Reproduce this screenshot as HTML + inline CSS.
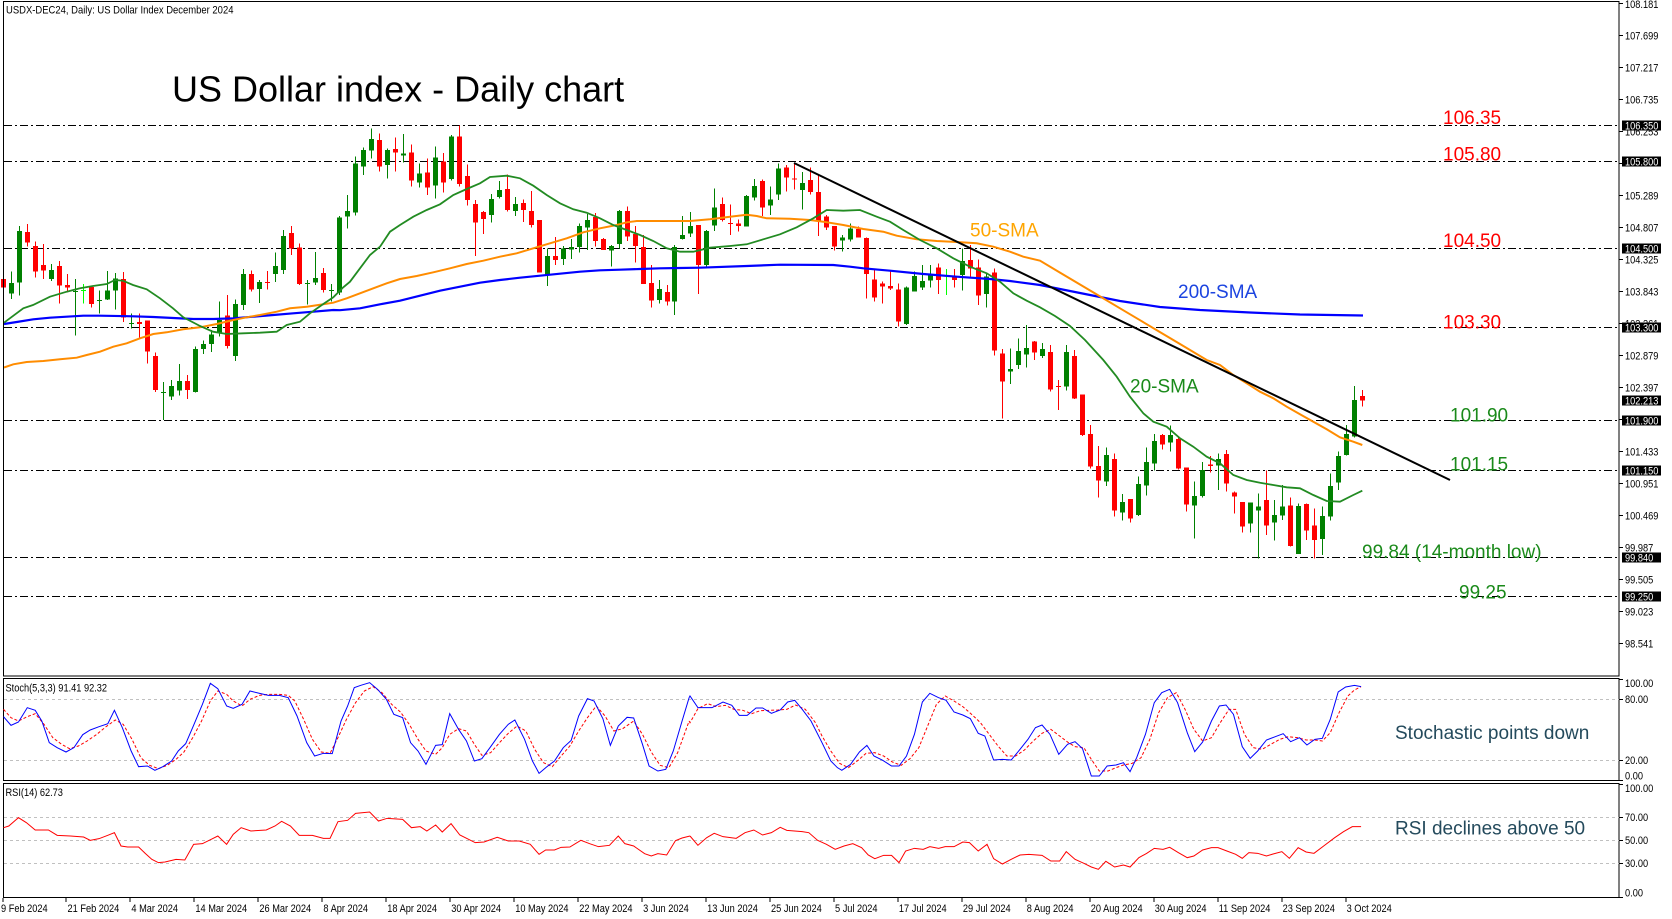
<!DOCTYPE html>
<html><head><meta charset="utf-8"><style>
html,body{margin:0;padding:0;background:#fff;}
svg{display:block;}
text{font-family:"Liberation Sans",Arial,sans-serif;}
</style></head><body>
<svg width="1672" height="919" viewBox="0 0 1672 919" xmlns="http://www.w3.org/2000/svg">
<rect x="0" y="0" width="1672" height="919" fill="#fff"/>

<!-- level dash-dot lines -->
<g stroke="#000" stroke-width="1" stroke-dasharray="8 3 2 3" shape-rendering="crispEdges">
<line x1="4" x2="1619" y1="125.5" y2="125.5"/>
<line x1="4" x2="1619" y1="161.5" y2="161.5"/>
<line x1="4" x2="1619" y1="248.5" y2="248.5"/>
<line x1="4" x2="1619" y1="327.5" y2="327.5"/>
<line x1="4" x2="1619" y1="420.5" y2="420.5"/>
<line x1="4" x2="1619" y1="470.5" y2="470.5"/>
<line x1="4" x2="1619" y1="557.5" y2="557.5"/>
<line x1="4" x2="1619" y1="596.5" y2="596.5"/>
</g>

<!-- candles: red -->
<path fill="none" stroke="#ff0000" stroke-width="1" shape-rendering="crispEdges" d="M3.5 276V291M27.5 224V246.7M35.5 241.7V277.7M43.5 244V279M59.5 261V303.3M67.5 274V291.7M91.5 286V307.7M123.5 272V322M139.5 313.3V337.7M147.5 320.7V363.3M155.5 352.3V392M187.5 375V399M227.5 295V348.3M251.5 270.7V291.7M267.5 271V289.3M291.5 226V255M299.5 243.3V285M323.5 268V292.3M379.5 133.3V171.7M395.5 137.3V171.7M411.5 144.3V186.7M427.5 158.3V195M443.5 153V192.3M459.5 125.7V186.7M467.5 164.3V205.7M475.5 200V256M483.5 211V234M507.5 174.3V211.7M523.5 199.7V222M531.5 191V227.7M539.5 220V272.7M555.5 237V265M595.5 213V246.7M603.5 238V250M627.5 206.7V241M635.5 226V262.7M643.5 235V284M651.5 265V307.7M667.5 285V305.7M698.5 225V294M722.5 197.3V221.7M730.5 204.3V235M738.5 219.3V231.7M762.5 179.3V216M786.5 165V191.7M794.5 164V189.3M810.5 167.3V194.7M818.5 175V236M826.5 215V230M834.5 226V250.7M858.5 226.7V237.7M866.5 237.3V298.3M874.5 268.3V301.7M882.5 281.7V303.7M890.5 270.7V290M898.5 283.3V326.7M938.5 263.3V294M954.5 269V287.3M970.5 245V276.7M978.5 259.3V305M994.5 268.3V355.7M1002.5 349V418.3M1034.5 341V360M1050.5 345V391.7M1058.5 380V410M1074.5 350V399M1082.5 394.3V436M1090.5 425V468.3M1098.5 446V497.3M1114.5 453.3V516.7M1130.5 499V522.7M1162.5 434V449.3M1178.5 436.7V469.3M1186.5 467.3V511.7M1210.5 456V472.3M1226.5 450V491.7M1234.5 491.7V513.3M1242.5 502V532.7M1266.5 470.7V535M1290.5 497.7V546.7M1306.5 503.3V540M1314.5 508.3V558.3M1362.5 390V406.7"/>
<path fill="#ff0000" shape-rendering="crispEdges" d="M1 279h5v8.7h-5zM25 232h5v10.7h-5zM33 246h5v25.7h-5zM41 265h5v5.7h-5zM57 266h5v19.7h-5zM65 285h5v2.7h-5zM89 287h5v17h-5zM121 279h5v38.3h-5zM137 322h5v2h-5zM145 320.7h5v31h-5zM153 356h5v34h-5zM185 381h5v9h-5zM225 315.3h5v30.7h-5zM249 274h5v15.3h-5zM265 282h5v1h-5zM289 233h5v15.7h-5zM297 247.3h5v36.7h-5zM321 273h5v17h-5zM377 140h5v26.7h-5zM393 149h5v3.7h-5zM409 152.3h5v28.4h-5zM425 172.3h5v15.4h-5zM441 161.3h5v21.4h-5zM457 136.3h5v47.7h-5zM465 176h5v24h-5zM473 204h5v18.7h-5zM481 212h5v7h-5zM505 189h5v21h-5zM521 203h5v7h-5zM529 211h5v14h-5zM537 220h5v52.7h-5zM553 256h5v4h-5zM593 217h5v24h-5zM601 239h5v11h-5zM625 211h5v25.7h-5zM633 234h5v12h-5zM641 247h5v37h-5zM649 283h5v17.7h-5zM665 292h5v9.7h-5zM696 225h5v40h-5zM720 204h5v16h-5zM728 223h5v1h-5zM736 223.3h5v2.7h-5zM760 181h5v26.3h-5zM784 167.3h5v10.4h-5zM792 178.3h5v1.4h-5zM808 180h5v12h-5zM816 192h5v29.7h-5zM824 216.7h5v11h-5zM832 226h5v20.7h-5zM856 229h5v8.3h-5zM864 238h5v36h-5zM872 279.3h5v18.4h-5zM880 283.7h5v3h-5zM888 286h5v2.7h-5zM896 289.3h5v32.4h-5zM936 267.7h5v12.3h-5zM952 276.7h5v3.3h-5zM968 260h5v8.3h-5zM976 267.7h5v28h-5zM992 272.3h5v78.4h-5zM1000 353.3h5v28.4h-5zM1032 341.7h5v11h-5zM1048 352h5v37.3h-5zM1056 386h5v1h-5zM1072 356h5v42.3h-5zM1080 394.3h5v40.7h-5zM1088 434h5v32.7h-5zM1096 466h5v14.7h-5zM1112 459h5v51.7h-5zM1128 499h5v19.7h-5zM1160 435h5v9.3h-5zM1176 439h5v29.3h-5zM1184 467.3h5v37h-5zM1208 464.3h5v1.7h-5zM1224 454h5v29.3h-5zM1232 492.7h5v4h-5zM1240 502h5v24.7h-5zM1264 500h5v25.3h-5zM1288 505.3h5v40.7h-5zM1304 504h5v26.7h-5zM1312 525.7h5v14.3h-5zM1360 396h5v4.7h-5z"/>

<!-- candles: green -->
<path fill="none" stroke="#008000" stroke-width="1" shape-rendering="crispEdges" d="M11.5 271.7V299M19.5 226V295.7M51.5 264V281M75.5 279V335.7M99.5 290.7V313.7M107.5 271V300M115.5 273V309.7M131.5 313.3V328.3M163.5 382V420M171.5 380V400M179.5 364V395.7M195.5 346.7V392.7M203.5 340.7V354M211.5 330V352M219.5 301.7V336.7M235.5 299.3V361M243.5 269V310M259.5 280V303M275.5 252.3V282M283.5 230V274M307.5 280V304.3M315.5 252V285M331.5 284V301.7M339.5 216V295M347.5 195V228.3M355.5 156.3V215.7M363.5 147.3V175M371.5 128.3V158.7M387.5 148.3V178.7M403.5 134V162.3M419.5 163.3V187.7M435.5 146.3V198.3M451.5 135V180.7M491.5 194V222.7M499.5 181V198.7M515.5 197V216M547.5 248.3V286M563.5 246V265M571.5 239V259M579.5 223.7V252.7M587.5 214V250M611.5 245V266.7M619.5 210V248.3M659.5 280V303.3M674.5 245V315M682.5 216V239.3M690.5 212V237M706.5 230V266.7M714.5 188.3V231M746.5 195V226.7M754.5 179V200.7M770.5 186.7V215M778.5 163.3V200M802.5 172V209.3M842.5 235V251.7M850.5 223.3V241.7M906.5 286.7V325M914.5 271.7V291.7M922.5 265V290M930.5 265V287.7M962.5 248.3V290.7M986.5 273.3V307.7M1010.5 348.3V384M1018.5 338.3V369M1026.5 325V367.7M1042.5 343V358M1066.5 345V390.7M1106.5 447.7V486M1122.5 494V520.7M1138.5 476.7V516M1146.5 447.7V495.7M1154.5 434V470.7M1170.5 425.7V451.7M1194.5 481.7V538.3M1202.5 462V497.7M1218.5 453.3V490M1250.5 502.7V532.7M1258.5 493.3V558.3M1274.5 500V540.7M1282.5 485V520M1298.5 503.3V554M1322.5 506.7V555M1330.5 473.3V520.7M1338.5 451.7V490M1346.5 425V455.7M1354.5 386V437.3"/>
<path fill="#008000" shape-rendering="crispEdges" d="M9 283h5v10.7h-5zM17 231h5v51.7h-5zM49 270h5v9h-5zM73 291h5v1h-5zM97 300h5v1h-5zM105 290.7h5v9h-5zM113 278.3h5v12.4h-5zM129 323h5v1h-5zM161 392h5v1h-5zM169 386h5v10.7h-5zM177 381h5v9.7h-5zM193 349h5v43h-5zM201 344h5v5h-5zM209 334.3h5v9.7h-5zM217 320h5v13h-5zM233 304h5v52h-5zM241 274h5v31h-5zM257 282h5v7h-5zM273 266h5v8h-5zM281 236h5v34h-5zM305 283h5v1h-5zM313 278h5v4.7h-5zM329 290h5v1h-5zM337 217.7h5v74.6h-5zM345 211h5v5.7h-5zM353 163.3h5v49.4h-5zM361 150h5v16.7h-5zM369 139h5v11.7h-5zM385 150h5v15h-5zM401 153.3h5v2.4h-5zM417 173.3h5v9.4h-5zM433 157.3h5v28.4h-5zM449 136.3h5v42.7h-5zM489 199h5v16h-5zM497 190h5v7h-5zM513 204h5v7h-5zM545 256h5v19h-5zM561 248.3h5v10.7h-5zM569 247h5v2.7h-5zM577 226h5v21h-5zM585 220h5v7.7h-5zM609 246h5v4.3h-5zM617 211h5v33h-5zM657 289h5v11h-5zM672 247h5v54.7h-5zM680 235h5v4h-5zM688 226h5v7.3h-5zM704 231h5v34h-5zM712 207.3h5v18.4h-5zM744 196h5v30.7h-5zM752 186h5v11.7h-5zM768 199.3h5v6.4h-5zM776 168.3h5v26.4h-5zM800 183h5v7h-5zM840 237.3h5v3.4h-5zM848 228.3h5v11h-5zM904 287.7h5v36.3h-5zM912 276h5v15.7h-5zM920 281h5v6.7h-5zM928 274h5v6.7h-5zM960 261h5v14h-5zM984 276.7h5v17.3h-5zM1008 369h5v2.7h-5zM1016 351h5v14h-5zM1024 348h5v6.7h-5zM1040 349h5v7h-5zM1064 352h5v34.7h-5zM1104 455h5v26.7h-5zM1120 502h5v10.7h-5zM1136 484h5v31h-5zM1144 462h5v23.7h-5zM1152 441h5v22.7h-5zM1168 435h5v7.7h-5zM1192 496h5v9.7h-5zM1200 470h5v26h-5zM1216 459h5v6.7h-5zM1248 502.7h5v20.6h-5zM1256 506.7h5v4h-5zM1272 515h5v7.7h-5zM1280 506.7h5v9h-5zM1296 506h5v48h-5zM1320 516h5v23h-5zM1328 486h5v30.7h-5zM1336 456h5v26.7h-5zM1344 434h5v21h-5zM1352 400h5v36.7h-5z"/>
<!-- lime dojis -->
<path fill="none" stroke="#00ff00" stroke-width="1" shape-rendering="crispEdges" d="M83.5 284V303.3M946.5 269V295"/>
<path fill="#00ff00" d="M81 290h5v1h-5zM944 275h5v1h-5z"/>

<!-- SMA 200 -->
<polyline fill="none" stroke="#0000ff" stroke-width="2.2" points="4,324 16.7,322 33.3,319.3 50,317.7 66.7,316.7 83.3,315.7 100,315.7 133.3,316.3 153.3,317 173.3,318 193.3,319 213.3,319 233.3,318.3 253.3,316.7 273.3,315 293.3,313.3 313.3,311.7 333.3,310 340,310.2 360,308.3 380,304.3 400,300.7 420,295.7 440,290.7 460,286.7 480,282.7 500,280 520,277.7 540,275.7 560,273.7 580,271.7 600,270.3 620,269.7 640,269 660,268.3 680,268 700,267.7 746.7,266 780,264.7 833.3,265 850,266.7 863.3,268.3 890,270.7 923.3,274 956.7,276.7 990,279 1010,281 1040,285 1080,293 1120,301 1160,307 1200,310 1250,312.5 1300,314.5 1363,315.5"/>
<!-- SMA 50 -->
<polyline fill="none" stroke="#ff8c00" stroke-width="2" points="4,367.5 13.3,364.3 26.7,362 43.3,361 60,359.3 76.7,357.7 86.7,355 100,351.7 113.3,346.7 126.7,343.3 140,338.3 153.3,334 166.7,332.3 183.3,329.3 200,327.3 216.7,324 233.3,320 246.7,317.3 260,315 276.7,311.7 290,308.3 306.7,306.7 320,304.7 333.3,302.7 346.7,298.3 360,293.3 373.3,288.3 386.7,283.3 400,279 416.7,276 433.3,272.3 450,268.3 466.7,264 483.3,260.7 500,256.7 516.7,253.3 533.3,248.3 550,243.3 566.7,238.3 583.3,232.3 600,228.3 616.7,225 626.7,222.3 636.7,221 690,221 710,219.3 730,216.7 746.7,214.7 756.7,216 766.7,218.3 790,218.7 810,220 823.3,221.7 843.3,225 863.3,229 883.3,231.7 896.7,235.7 916.7,239.3 936.7,241 956.7,242 976.7,243.3 993.3,246.7 1010,251.7 1023.3,256.7 1040,260.7 1060,272.6 1080,284.5 1100,296.4 1120,308.3 1140,320.2 1160,332.1 1180,344 1206.7,360 1220,365 1233.3,375 1246.7,383.3 1260,391.7 1273.3,398.3 1286.7,406.7 1300,414.3 1313.3,421.7 1326.7,429.3 1340,437.3 1353.3,441.7 1362.3,445"/>
<!-- SMA 20 -->
<polyline fill="none" stroke="#228b22" stroke-width="1.8" points="4,322.7 23.3,308.3 33,305 50,296.7 66.7,291.7 80,288.3 93,286 106.7,284 115,280 123,280.7 133,285 146.7,289.3 160,298.3 173,308.3 183.3,317.3 200,326 213,331.7 226.7,334 243.3,333.3 260,332.7 276.7,331.7 286.7,325 300,321.7 310,313.3 323.3,304 333.3,297.3 343.3,287.3 350,281.7 360,268.3 370,255 380,246.7 390,231.7 400,225 413.3,216.7 426.7,210 440,204.3 453.3,195 466.7,189 480,183.3 490,177 506.7,175.7 520,178.3 533.3,185.7 546.7,195 560,203.3 573.3,209.3 586.7,212.7 600,218.3 613.3,225 626.7,230 640,235 653.3,241 666.7,248.3 680,251.7 693.3,251.7 710,247.7 730,246 746.7,244.3 763.3,239.3 780,234.3 796.7,227.3 813.3,218.3 826.7,210 843.3,210.7 860,210 876.7,216.7 890,221.7 903.3,230 920,240 936.7,248.3 953.3,258.3 970,266.7 986.7,273.3 1000,281.7 1013.3,293.3 1026.7,300.7 1040,307.3 1055,316 1070,326 1085,340 1103.3,360 1116.7,376.7 1130,396.7 1143.3,413.3 1153.3,421.7 1166.7,426.7 1180,438.3 1193.3,446.7 1206.7,456.7 1220,463.3 1233.3,475 1246.7,480 1260,482.7 1273.3,485 1286.7,487.3 1300,488.3 1313.3,495 1326.7,501 1340,501.7 1353.3,495 1362.3,490.7"/>
<!-- trendline -->
<line x1="794" y1="163" x2="1450" y2="480" stroke="#000" stroke-width="2"/>

<!-- frames -->
<g fill="none" stroke="#000" stroke-width="1" shape-rendering="crispEdges">
<rect x="3.5" y="1.5" width="1615.5" height="674.5"/>
<rect x="3.5" y="678.5" width="1615.5" height="102"/>
<rect x="3.5" y="783.5" width="1615.5" height="114"/>
</g>

<!-- oscillator grid -->
<g stroke="#c0c0c0" stroke-width="1" stroke-dasharray="3 3" shape-rendering="crispEdges">
<line x1="4" x2="1619" y1="699.5" y2="699.5"/>
<line x1="4" x2="1619" y1="760.5" y2="760.5"/>
<line x1="4" x2="1619" y1="817.5" y2="817.5"/>
<line x1="4" x2="1619" y1="840.5" y2="840.5"/>
<line x1="4" x2="1619" y1="863.5" y2="863.5"/>
</g>

<!-- stochastic + RSI -->
<g transform="translate(0 676) scale(0.44005 0.33333)" fill="none">
<polyline vector-effect="non-scaling-stroke" stroke="#ff0000" stroke-width="1" stroke-dasharray="3 2" points="8,100 25,125 42,135 62,122 80,113 100,145 120,185 140,205 158,218 178,210 198,195 220,175 240,153 262,132 280,145 300,190 320,245 340,268 360,278 380,268 400,250 418,228 438,185 458,135 478,75 495,45 515,55 530,75 550,90 568,70 590,58 610,55 635,55 655,58 670,75 690,130 710,190 730,228 750,232 768,185 788,128 808,80 828,45 848,32 868,50 890,85 910,108 930,145 950,190 968,225 990,235 1005,215 1022,175 1042,158 1060,165 1078,205 1095,238 1115,230 1135,200 1155,172 1175,150 1195,165 1215,220 1235,260 1255,272 1275,240 1295,210 1315,165 1335,125 1355,90 1375,120 1395,165 1415,158 1440,135 1460,175 1480,228 1500,268 1520,275 1540,230 1566,135"/>
<polyline vector-effect="non-scaling-stroke" stroke="#0000ff" stroke-width="1" points="8,122 25,148 42,138 62,95 80,103 95,135 112,200 130,215 150,228 168,215 188,176 205,162 225,152 245,143 260,103 278,155 298,225 315,272 335,270 352,283 370,272 390,255 405,225 422,203 440,148 460,85 478,22 495,38 515,90 530,97 550,85 568,45 590,52 610,58 635,58 655,65 675,120 697,200 715,240 735,232 755,233 775,135 790,90 805,35 820,28 840,20 858,40 878,70 895,115 915,125 933,200 950,225 968,265 990,208 1005,206 1022,113 1042,160 1060,195 1078,255 1095,248 1115,212 1135,175 1155,145 1170,132 1192,190 1210,255 1225,292 1242,273 1260,255 1280,215 1298,193 1315,120 1335,68 1350,75 1370,128 1387,208 1405,150 1425,124 1440,126 1460,205 1475,270 1495,285 1513,280 1530,225 1550,135 1566,65"/>
<polyline vector-effect="non-scaling-stroke" stroke="#ff0000" stroke-width="1" points="8,455 20,450 42,425 60,440 80,462 110,462 130,478 160,480 190,483 205,493 225,488 245,478 260,470 275,510 290,513 315,513 330,532 345,550 360,560 375,558 400,550 420,552 440,505 460,503 480,490 495,480 515,505 530,475 548,455 570,465 605,462 625,450 640,436 660,450 680,478 710,478 735,487 750,487 768,437 790,433 808,412 840,408 860,435 880,427 915,430 935,455 955,452 970,465 990,447 1005,468 1025,443 1045,477 1080,500 1100,498 1130,484 1155,495 1180,495 1205,505 1225,535 1240,522 1260,522 1275,514 1295,513 1320,493 1340,503 1360,512 1385,508 1405,480 1420,503 1440,510 1465,533 1480,540 1495,533 1515,537 1535,494 1550,486 1568,480"/>
</g>
<g transform="translate(690 676) scale(0.44005 0.33333)" fill="none">
<polyline vector-effect="non-scaling-stroke" stroke="#ff0000" stroke-width="1" stroke-dasharray="3 2" points="-2,135 0,140 18,98 40,83 60,92 80,88 100,100 120,103 140,113 160,104 180,103 200,102 220,100 240,87 262,100 285,140 300,180 320,225 340,262 360,275 380,255 400,232 420,230 440,240 460,258 480,268 500,248 520,215 540,150 560,85 580,60 600,75 620,92 640,115 660,140 680,175 700,210 720,240 740,240 760,222 780,195 800,172 820,160 840,180 860,200 875,212 895,215 912,250 930,285 950,285 968,275 985,267 1005,262 1025,245 1045,190 1065,110 1085,65 1105,50 1125,100 1145,160 1165,195 1185,185 1205,140 1225,100 1240,100 1260,175 1280,215 1300,220 1320,205 1340,190 1360,182 1380,185 1400,192 1420,192 1437,195 1455,170 1475,110 1495,60 1510,42 1525,32"/>
<polyline vector-effect="non-scaling-stroke" stroke="#0000ff" stroke-width="1" points="-2,65 0,60 18,95 50,95 75,78 95,88 112,118 130,118 150,96 165,96 185,112 205,102 222,78 238,73 255,100 275,135 300,200 320,255 335,275 345,283 365,265 385,228 402,208 418,240 438,253 458,270 475,270 492,240 510,175 528,78 545,52 565,65 582,73 600,108 620,117 637,128 655,172 670,180 690,252 710,250 730,252 750,220 768,190 785,155 800,147 818,175 838,235 858,205 875,197 892,218 912,300 930,300 948,270 968,267 985,260 1000,287 1015,245 1035,175 1055,80 1072,50 1090,40 1108,80 1130,170 1147,227 1165,198 1185,135 1203,90 1218,87 1235,115 1255,212 1273,247 1290,225 1310,192 1330,182 1348,173 1365,197 1385,185 1402,207 1420,190 1437,187 1455,130 1473,48 1490,33 1510,28 1525,32"/>
<polyline vector-effect="non-scaling-stroke" stroke="#ff0000" stroke-width="1" points="0,480 18,508 38,485 55,472 75,482 105,487 125,470 145,462 165,477 185,470 205,454 220,463 255,467 270,470 290,493 310,505 330,520 350,510 370,503 390,515 405,537 420,548 440,538 458,538 475,560 490,525 510,517 530,520 545,512 565,517 580,512 600,512 620,498 635,500 655,525 675,505 690,548 710,564 730,550 750,537 770,535 800,538 820,555 840,555 855,527 875,550 895,562 912,573 928,580 945,556 965,573 985,567 1000,573 1020,545 1038,532 1055,517 1075,520 1090,514 1110,530 1130,545 1145,540 1165,522 1185,515 1200,515 1220,525 1240,535 1255,547 1270,530 1290,532 1310,540 1325,534 1345,527 1362,547 1382,515 1400,528 1418,532 1440,510 1465,485 1485,467 1505,452 1525,452"/>
</g>

<!-- right axis ticks -->
<g stroke="#000" stroke-width="1" shape-rendering="crispEdges">
<path d="M1619 3.5h4M1619 35.5h4M1619 67.5h4M1619 99.5h4M1619 131.5h4M1619 163.5h4M1619 195.5h4M1619 227.5h4M1619 259.5h4M1619 291.5h4M1619 323.5h4M1619 355.5h4M1619 387.5h4M1619 419.5h4M1619 451.5h4M1619 483.5h4M1619 515.5h4M1619 547.5h4M1619 579.5h4M1619 611.5h4M1619 643.5h4"/>
<path d="M1619 679.5h4M1619 699.5h4M1619 760.5h4M1619 780.5h4M1619 784.5h4M1619 817.5h4M1619 840.5h4M1619 863.5h4M1619 897.5h4"/>
<path d="M3 898v4M66 898v4M130 898v4M194 898v4M258 898v4M322 898v4M386 898v4M450 898v4M514 898v4M578 898v4M642 898v4M706 898v4M770 898v4M834 898v4M898 898v4M962 898v4M1026 898v4M1090 898v4M1154 898v4M1218 898v4M1282 898v4M1346 898v4"/>
</g>

<!-- right axis labels -->
<g font-size="11" fill="#000" transform="translate(1625 0) scale(0.84 1)">
<text x="0" y="8">108.181</text>
<text x="0" y="39.5">107.699</text>
<text x="0" y="71.5">107.217</text>
<text x="0" y="103.5">106.735</text>
<text x="0" y="135.5">106.253</text>
<text x="0" y="199.5">105.289</text>
<text x="0" y="231.5">104.807</text>
<text x="0" y="263.5">104.325</text>
<text x="0" y="295.5">103.843</text>
<text x="0" y="327.5">103.361</text>
<text x="0" y="359.5">102.879</text>
<text x="0" y="391.5">102.397</text>
<text x="0" y="455.5">101.433</text>
<text x="0" y="487.5">100.951</text>
<text x="0" y="519.5">100.469</text>
<text x="0" y="551.5">99.987</text>
<text x="0" y="583.5">99.505</text>
<text x="0" y="615.5">99.023</text>
<text x="0" y="647.5">98.541</text>
<text x="0" y="687">100.00</text>
<text x="0" y="703">80.00</text>
<text x="0" y="764">20.00</text>
<text x="0" y="779.5">0.00</text>
<text x="0" y="792">100.00</text>
<text x="0" y="821">70.00</text>
<text x="0" y="844">50.00</text>
<text x="0" y="867">30.00</text>
<text x="0" y="896.5">0.00</text>
</g>
<!-- level boxes -->
<g fill="#000">
<rect x="1622" y="120.5" width="39" height="10"/>
<rect x="1622" y="156.5" width="39" height="10"/>
<rect x="1622" y="243.5" width="39" height="10"/>
<rect x="1622" y="322.5" width="39" height="10"/>
<rect x="1622" y="395.5" width="39" height="10"/>
<rect x="1622" y="415.5" width="39" height="10"/>
<rect x="1622" y="465.5" width="39" height="10"/>
<rect x="1622" y="552.5" width="39" height="10"/>
<rect x="1622" y="591.5" width="39" height="10"/>
</g>
<g font-size="11" fill="#fff" transform="translate(1625 0) scale(0.84 1)">
<text x="0" y="129.5">106.350</text>
<text x="0" y="165.5">105.800</text>
<text x="0" y="252.5">104.500</text>
<text x="0" y="331.5">103.300</text>
<text x="0" y="404.5">102.213</text>
<text x="0" y="424.5">101.900</text>
<text x="0" y="474.5">101.150</text>
<text x="0" y="561.5">99.840</text>
<text x="0" y="600.5">99.250</text>
</g>

<!-- date labels -->
<g font-size="11" fill="#000">
<text transform="translate(1 912) scale(0.84 1)">9 Feb 2024</text>
<text transform="translate(67.5 912) scale(0.84 1)">21 Feb 2024</text>
<text transform="translate(131.4 912) scale(0.84 1)">4 Mar 2024</text>
<text transform="translate(195.4 912) scale(0.84 1)">14 Mar 2024</text>
<text transform="translate(259.4 912) scale(0.84 1)">26 Mar 2024</text>
<text transform="translate(323.4 912) scale(0.84 1)">8 Apr 2024</text>
<text transform="translate(387.3 912) scale(0.84 1)">18 Apr 2024</text>
<text transform="translate(451.3 912) scale(0.84 1)">30 Apr 2024</text>
<text transform="translate(515.2 912) scale(0.84 1)">10 May 2024</text>
<text transform="translate(579.2 912) scale(0.84 1)">22 May 2024</text>
<text transform="translate(643.1 912) scale(0.84 1)">3 Jun 2024</text>
<text transform="translate(707.1 912) scale(0.84 1)">13 Jun 2024</text>
<text transform="translate(771 912) scale(0.84 1)">25 Jun 2024</text>
<text transform="translate(835 912) scale(0.84 1)">5 Jul 2024</text>
<text transform="translate(898.9 912) scale(0.84 1)">17 Jul 2024</text>
<text transform="translate(962.9 912) scale(0.84 1)">29 Jul 2024</text>
<text transform="translate(1026.8 912) scale(0.84 1)">8 Aug 2024</text>
<text transform="translate(1090.8 912) scale(0.84 1)">20 Aug 2024</text>
<text transform="translate(1154.7 912) scale(0.84 1)">30 Aug 2024</text>
<text transform="translate(1218.7 912) scale(0.84 1)">11 Sep 2024</text>
<text transform="translate(1282.6 912) scale(0.84 1)">23 Sep 2024</text>
<text transform="translate(1346.6 912) scale(0.84 1)">3 Oct 2024</text>
</g>

<!-- panel captions -->
<g font-size="11" fill="#000">
<text transform="translate(6 13.5) scale(0.86 1)">USDX-DEC24, Daily:  US Dollar Index December 2024</text>
<text transform="translate(5.5 691.5) scale(0.84 1)">Stoch(5,3,3) 91.41 92.32</text>
<text transform="translate(5.5 796) scale(0.84 1)">RSI(14) 62.73</text>
</g>

<!-- title -->
<text x="172" y="101.5" font-size="36" fill="#000">US Dollar index - Daily chart</text>

<!-- level labels -->
<g font-size="19" fill="#ff0000">
<text x="1443" y="124">106.35</text>
<text x="1443" y="160.5">105.80</text>
<text x="1443" y="247">104.50</text>
<text x="1443" y="328.5">103.30</text>
</g>
<g font-size="19" fill="#1a8a1a">
<text x="1450" y="421.5">101.90</text>
<text x="1450" y="470.5">101.15</text>
<text x="1362" y="558">99.84 (14-month low)</text>
<text x="1459" y="598.5">99.25</text>
<text x="1130" y="392.7">20-SMA</text>
</g>
<text x="970" y="236.5" font-size="19" fill="#ffa500">50-SMA</text>
<text x="1178" y="297.8" font-size="19" fill="#1c44e0">200-SMA</text>

<!-- annotations -->
<text x="1395" y="739" font-size="19" fill="#244a5c">Stochastic points down</text>
<text x="1395" y="834.5" font-size="19" fill="#244a5c">RSI declines above 50</text>
</svg>
</body></html>
